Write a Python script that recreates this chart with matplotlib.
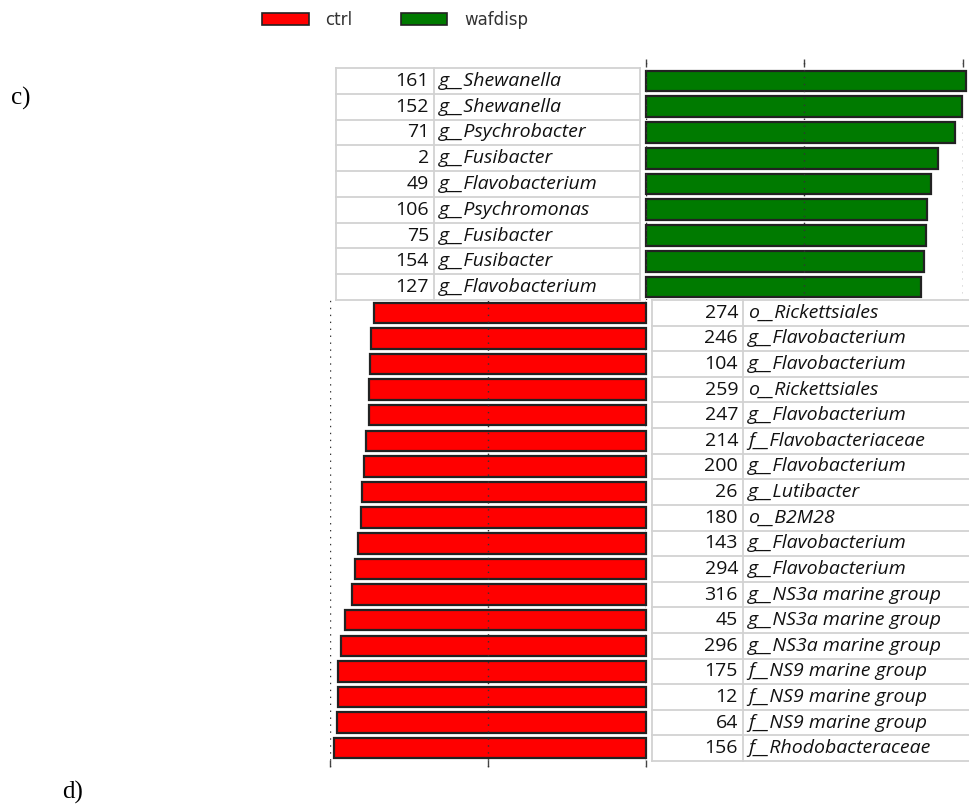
import matplotlib
matplotlib.use("Agg")
import matplotlib.pyplot as plt
from matplotlib.patches import Patch

W, H = 970, 807

# LDA-style scores
wafdisp_ids = ["161", "152", "71", "2", "49", "106", "75", "154", "127"]
wafdisp_taxa = ["g__Shewanella", "g__Shewanella", "g__Psychrobacter", "g__Fusibacter",
                "g__Flavobacterium", "g__Psychromonas", "g__Fusibacter", "g__Fusibacter",
                "g__Flavobacterium"]
wafdisp_scores = [4.04, 3.99, 3.90, 3.68, 3.60, 3.55, 3.53, 3.51, 3.47]

ctrl_ids = ["274", "246", "104", "259", "247", "214", "200", "26", "180",
            "143", "294", "316", "45", "296", "175", "12", "64", "156"]
ctrl_taxa = ["o__Rickettsiales", "g__Flavobacterium", "g__Flavobacterium", "o__Rickettsiales",
             "g__Flavobacterium", "f__Flavobacteriaceae", "g__Flavobacterium", "g__Lutibacter",
             "o__B2M28", "g__Flavobacterium", "g__Flavobacterium", "g__NS3a marine group",
             "g__NS3a marine group", "g__NS3a marine group", "f__NS9 marine group",
             "f__NS9 marine group", "f__NS9 marine group", "f__Rhodobacteraceae"]
ctrl_scores = [3.44, 3.48, 3.49, 3.51, 3.51, 3.54, 3.57, 3.59, 3.61,
               3.65, 3.68, 3.72, 3.81, 3.86, 3.90, 3.90, 3.91, 3.95]

axis_ticks = [0, 2, 4]

RED = "#ff0000"
GREEN = "#007a00"
EDGE = "#222222"
GRID = "#d2d2d2"
TABLE_FONT = "Open Sans"
FS = 14


def box(x0, y0, x1, y1):
    # pixel box (top-left origin) -> figure fraction rect
    return [x0 / W, 1 - y1 / H, (x1 - x0) / W, (y1 - y0) / H]


def style_bar_axes(ax):
    for s in ax.spines.values():
        s.set_visible(False)
    ax.set_yticks([])
    ax.set_xticks(axis_ticks)
    ax.set_xticklabels([])
    for t in axis_ticks:
        ax.axvline(t, color="#333333", lw=1.0, linestyle=(0, (1, 4)), zorder=3)


def label_table(ax, ids, taxa, width, split, right_border=True):
    n = len(ids)
    ax.set_xlim(0, width)
    ax.set_ylim(n - 0.5, -0.5)
    ax.axis("off")
    for i in range(n + 1):
        ax.plot([0, width], [i - 0.5, i - 0.5], color=GRID, lw=1.3, clip_on=False)
    xs = [0, split] + ([width] if right_border else [])
    for x in xs:
        ax.plot([x, x], [-0.5, n - 0.5], color=GRID, lw=1.3, clip_on=False)
    for i, (a, b) in enumerate(zip(ids, taxa)):
        ax.text(split - 5, i, a, ha="right", va="center", fontsize=FS,
                family=TABLE_FONT, color="#111111")
        ax.text(split + 5, i, b, ha="left", va="center", fontsize=FS,
                family=TABLE_FONT, style="italic", color="#111111")


fig = plt.figure(figsize=(W / 100, H / 100), dpi=100)
fig.patch.set_facecolor("white")

# wafdisp bars (pointing right)
ax_g = fig.add_axes(box(646, 59, 963, 300))
ng = len(wafdisp_scores)
ax_g.barh(range(ng), wafdisp_scores, height=0.8, color=GREEN, edgecolor=EDGE,
          linewidth=1.6, clip_on=False, zorder=2)
ax_g.set_xlim(0, 4)
ax_g.set_ylim(ng - 0.5, -0.5 - 9 / 25.8)
style_bar_axes(ax_g)
ax_g.tick_params(axis="x", bottom=False, top=True, direction="in", length=6,
                 width=1.0, color="#444444")

# ctrl bars (pointing left)
ax_r = fig.add_axes(box(330, 300, 646, 767))
nr = len(ctrl_scores)
ax_r.barh(range(nr), ctrl_scores, height=0.8, color=RED, edgecolor=EDGE,
          linewidth=1.6, clip_on=False, zorder=2)
ax_r.set_xlim(4, 0)
ax_r.set_ylim(nr - 0.5 + 6 / 25.6, -0.5)
style_bar_axes(ax_r)
ax_r.tick_params(axis="x", bottom=True, top=False, direction="in", length=5,
                 width=1.0, color="#444444")

# label tables
ax_gl = fig.add_axes(box(336, 68, 640, 300))
label_table(ax_gl, wafdisp_ids, wafdisp_taxa, 304, 98)
ax_rl = fig.add_axes(box(652, 300, 970, 761))
label_table(ax_rl, ctrl_ids, ctrl_taxa, 318, 91, right_border=False)

# legend
handles = [Patch(facecolor=RED, edgecolor=EDGE, lw=1.2, label="ctrl"),
           Patch(facecolor=GREEN, edgecolor=EDGE, lw=1.2, label="wafdisp")]
leg = fig.legend(handles=handles, loc="center", bbox_to_anchor=(395 / W, 1 - 20 / H),
                 ncol=2, frameon=False, fontsize=12, handlelength=2.8,
                 handleheight=0.78, handletextpad=1.0, columnspacing=2.9)
for t in leg.get_texts():
    t.set_color("#333333")

# panel letters
fig.text(11 / W, 1 - 98 / H, "c)", fontsize=18, family="Liberation Serif",
         va="center", ha="left")
fig.text(62 / W, 1 - 792 / H, "d)", fontsize=18, family="Liberation Serif",
         va="center", ha="left")

fig.savefig("out.png", dpi=100)
